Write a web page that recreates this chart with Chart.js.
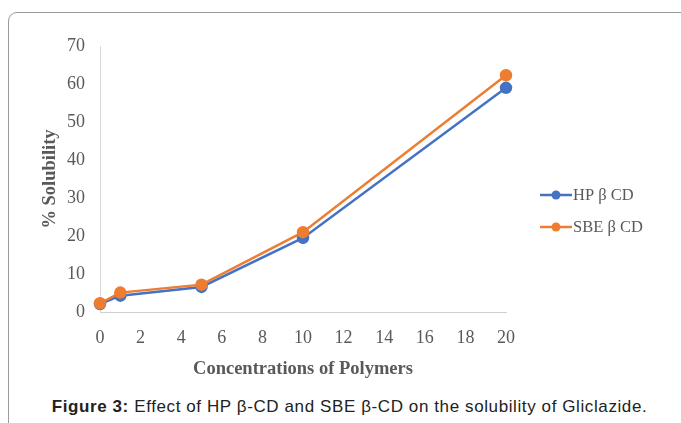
<!DOCTYPE html>
<html>
<head>
<meta charset="utf-8">
<script src="https://cdn.jsdelivr.net/npm/chart.js@4"></script>
<style>
  body { margin: 0; background: #fff; }
  #wrap { position: relative; width: 681px; height: 423px; overflow: hidden; }
  #frame {
    position: absolute; left: 8px; top: 12px; width: 700px; height: 440px;
    border: 1px solid #9a9a9a; border-top-left-radius: 9px; box-sizing: border-box;
  }
  #chartBox { position: absolute; left: 0; top: 0; width: 681px; height: 395px; }
  #caption {
    position: absolute; left: 9px; top: 397px; width: 681px; text-align: center;
    font-family: "Liberation Sans", Arial, sans-serif; font-size: 17px; letter-spacing: 0.6px; color: #222;
  }
</style>
</head>
<body>
<div id="wrap">
  <div id="frame"></div>
  <div id="chartBox"><canvas id="solChart"></canvas></div>
  <div id="caption"><b>Figure 3:</b> Effect of HP β-CD and SBE β-CD on the solubility of Gliclazide.</div>
</div>
<script>
// Data
const concentrations = [0, 1, 5, 10, 20];
const hpValues = [2.1, 4.3, 6.6, 19.5, 59.0];
const sbeValues = [2.3, 5.1, 7.2, 21.0, 62.3];
const seriesNames = ["HP β CD", "SBE β CD"];
const seriesColors = ["#4472C4", "#ED7D31"];

const serif = "'Liberation Serif', 'Times New Roman', serif";
const tickGray = "#595959";

// legend drawn by hand: line + dot, like the office style
const sideLegend = {
  id: 'sideLegend',
  afterDraw(chart) {
    const ctx = chart.ctx;
    const x0 = 540, y0 = 195, gap = 32;
    chart.data.datasets.forEach((ds, i) => {
      const y = y0 + i * gap;
      ctx.save();
      ctx.strokeStyle = ds.borderColor;
      ctx.lineWidth = 2.5;
      ctx.beginPath();
      ctx.moveTo(x0, y);
      ctx.lineTo(x0 + 32, y);
      ctx.stroke();
      ctx.fillStyle = ds.borderColor;
      ctx.beginPath();
      ctx.arc(x0 + 16, y, 4.5, 0, Math.PI * 2);
      ctx.fill();
      ctx.fillStyle = tickGray;
      ctx.font = "16.5px " + serif;
      ctx.textBaseline = 'middle';
      ctx.fillText(ds.label, x0 + 33, y + 1);
      ctx.restore();
    });
  }
};

const makePoints = vals => concentrations.map((c, i) => ({ x: c, y: vals[i] }));

const solChart = new Chart(document.getElementById('solChart'), {
  type: 'line',
  data: {
    datasets: [
      {
        label: seriesNames[0],
        data: makePoints(hpValues),
        borderColor: seriesColors[0],
        backgroundColor: seriesColors[0],
        borderWidth: 2.5,
        pointRadius: 5,
        pointHoverRadius: 5,
        order: 1,
        clip: false,
      },
      {
        label: seriesNames[1],
        data: makePoints(sbeValues),
        borderColor: seriesColors[1],
        backgroundColor: seriesColors[1],
        borderWidth: 2.5,
        pointRadius: 5,
        pointHoverRadius: 5,
        order: 0,
        clip: false,
      },
    ]
  },
  options: {
    responsive: true,
    maintainAspectRatio: false,
    animation: false,
    layout: { padding: { left: 39, top: 46, right: 175, bottom: 13 } },
    plugins: { legend: { display: false }, tooltip: { enabled: false } },
    scales: {
      x: {
        type: 'linear',
        min: 0, max: 20,
        ticks: { stepSize: 2, color: tickGray, font: { family: serif, size: 18 }, padding: 15 },
        grid: { drawOnChartArea: false, drawTicks: false },
        border: { color: '#d0d0d0', width: 1 },
        title: { display: true, text: 'Concentrations of Polymers', color: tickGray,
                 font: { family: serif, size: 18.5, weight: 'bold' }, padding: { top: 4, bottom: 2 } },
        afterFit: s => { s.height = 70; },
      },
      y: {
        min: 0, max: 70,
        ticks: { stepSize: 10, color: tickGray, font: { family: serif, size: 18 }, padding: 15 },
        grid: { drawOnChartArea: false, drawTicks: false },
        border: { color: '#d9d9d9', width: 1 },
        title: { display: true, text: '% Solubility', color: tickGray,
                 font: { family: serif, size: 18.5, weight: 'bold' }, padding: { top: 0, bottom: 0 } },
        afterFit: s => { s.width = 61; },
      },
    }
  },
  plugins: [sideLegend]
});
</script>
</body>
</html>
